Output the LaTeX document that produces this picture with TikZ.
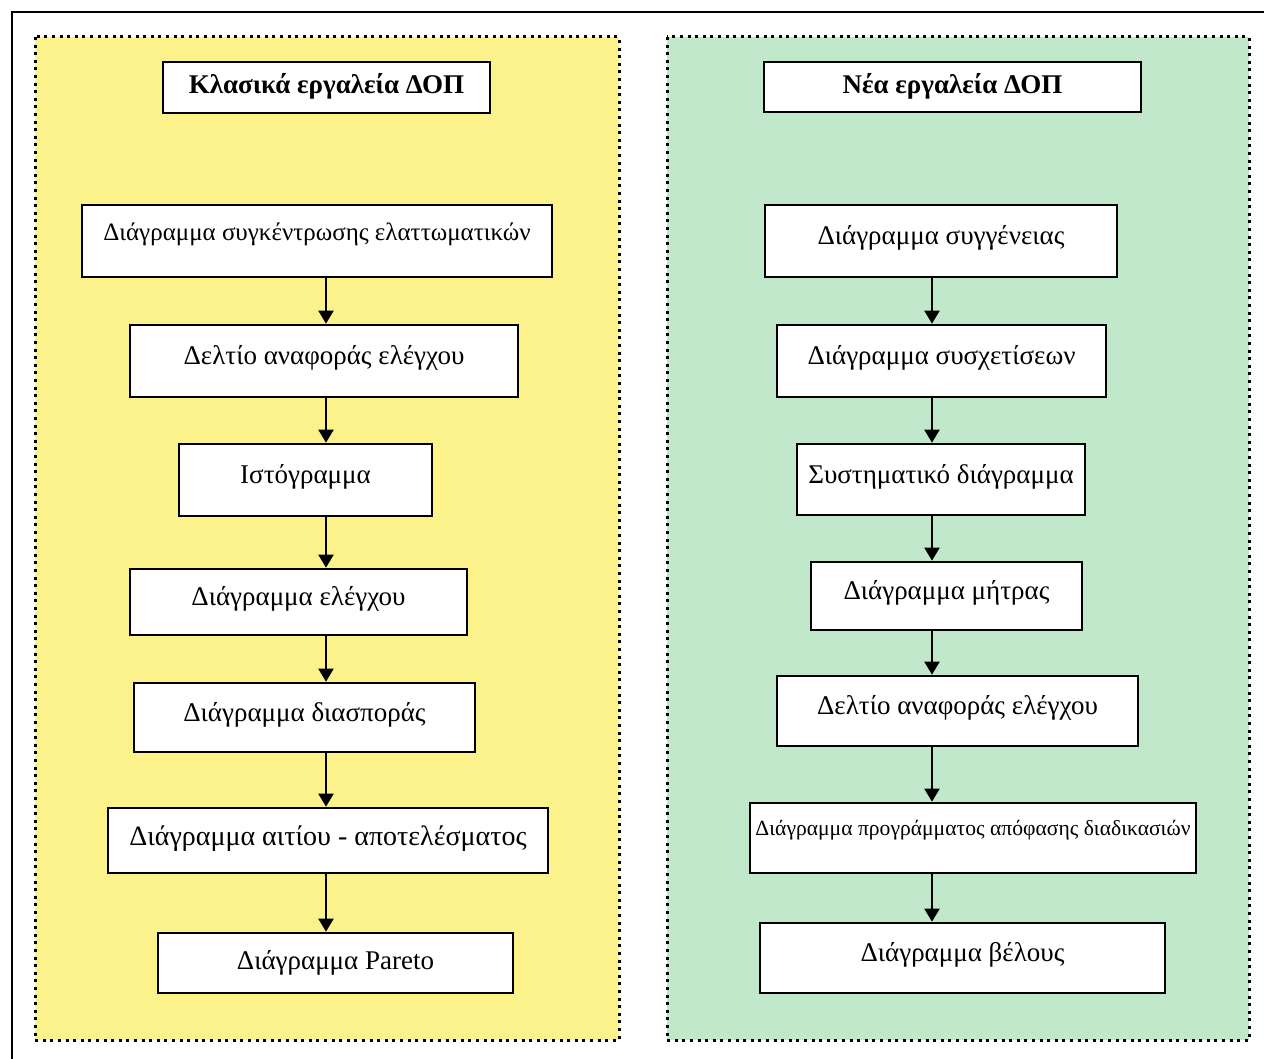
\documentclass[tikz,border=0pt]{standalone}
\usepackage{fontspec}
\setmainfont{Liberation Serif}
\usetikzlibrary{arrows.meta}
\definecolor{panelyellow}{RGB}{251,242,140}
\definecolor{panelgreen}{RGB}{194,232,204}
\tikzset{
  panel/.style={line width=1.5pt, dash pattern=on 1.5pt off 2.3pt},
  toolbox/.style={draw, fill=white, line width=1.3pt, inner sep=0pt, align=center,
    font=\fontsize{13.5}{16}\selectfont, text height=9.5pt, text depth=6pt},
  titlebox/.style={toolbox, font=\fontsize{13.5}{16}\selectfont\bfseries,
    text depth=3pt},
  flow/.style={line width=1pt, -{Triangle[length=6.5pt,width=7.5pt]}},
}
% box given by centre (px) and size (px); 1px = 0.5pt
\newcommand\toolnode[6][toolbox]{%
  \node[#1, minimum width=#5*0.5pt, minimum height=#6*0.5pt] (#2) at (#3,#4)}
\begin{document}
\begin{tikzpicture}[x=0.5pt,y=-0.5pt]
\useasboundingbox (0,0) rectangle (1264,1059);
\clip (0,0) rectangle (1264,1059);
\fill[white] (0,0) rectangle (1264,1059);
% outer frame
\draw[line width=1.4pt] (12,12) rectangle (1300,1100);
% panels
\fill[panelyellow] (35,37) rectangle (619,1040);
\draw[panel] (35,37) rectangle (619,1040);
\fill[panelgreen] (667,37) rectangle (1249,1040);
\draw[panel] (667,37) rectangle (1249,1040);

% classic tools
\toolnode[titlebox]{L0}{326.5}{87.5}{327}{51} {Κλασικά εργαλεία ΔΟΠ};
\toolnode[toolbox, font=\fontsize{12.5}{15}\selectfont, text height=8.8pt, text depth=8.8pt]{L1}{317}{241}{470}{72} {Διάγραμμα συγκέντρωσης ελαττωματικών};
\toolnode{L2}{324}{361}{388}{72} {Δελτίο αναφοράς ελέγχου};
\toolnode{L3}{305.5}{480}{253}{72} {Ιστόγραμμα};
\toolnode{L4}{298.5}{602}{337}{66} {Διάγραμμα ελέγχου};
\toolnode{L5}{304.5}{717.5}{341}{69} {Διάγραμμα διασποράς};
\toolnode[toolbox, font=\fontsize{14}{16}\selectfont, text depth=4.5pt]{L6}{328}{840.5}{440}{65} {Διάγραμμα αιτίου - αποτελέσματος};
\toolnode[toolbox, text depth=3.2pt]{L7}{335.5}{963}{355}{60} {Διάγραμμα Pareto};

% new tools
\toolnode[titlebox]{R0}{952.5}{87}{377}{50} {Νέα εργαλεία ΔΟΠ};
\toolnode{R1}{941}{241}{352}{72} {Διάγραμμα συγγένειας};
\toolnode{R2}{941.5}{361}{329}{72} {Διάγραμμα συσχετίσεων};
\toolnode{R3}{941}{479.5}{288}{71} {Συστηματικό διάγραμμα};
\toolnode{R4}{946.5}{596}{271}{68} {Διάγραμμα μήτρας};
\toolnode{R5}{957.5}{711}{361}{70} {Δελτίο αναφοράς ελέγχου};
\toolnode[toolbox, font=\fontsize{10.8}{14}\selectfont, text height=7.6pt, text depth=10pt]{R6}{973}{838}{446}{70} {Διάγραμμα προγράμματος απόφασης διαδικασιών};
\toolnode{R7}{962.5}{958}{405}{70} {Διάγραμμα βέλους};

% flow axes
\coordinate (la) at (326,0);
\coordinate (ra) at (932,0);
\foreach \a/\b in {L1/L2,L2/L3,L3/L4,L4/L5,L5/L6,L6/L7}
  \draw[flow] (\a.south -| la) -- (\b.north -| la);
\foreach \a/\b in {R1/R2,R2/R3,R3/R4,R4/R5,R5/R6,R6/R7}
  \draw[flow] (\a.south -| ra) -- (\b.north -| ra);
\end{tikzpicture}
\end{document}
